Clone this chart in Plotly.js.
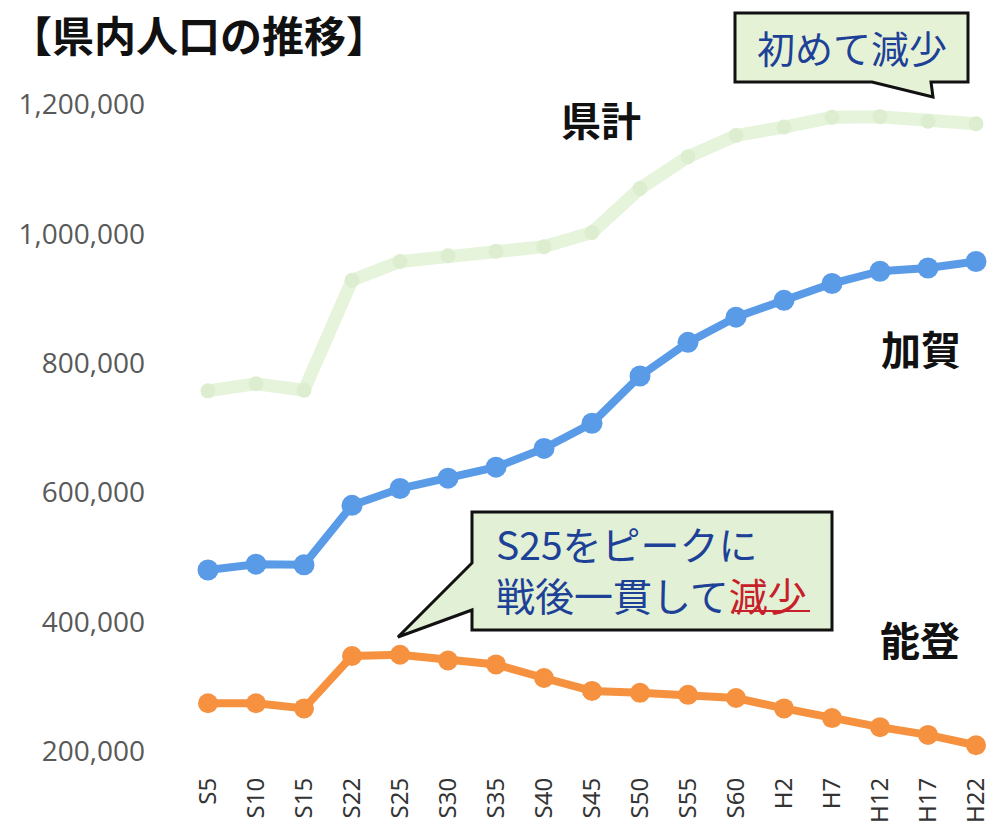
<!DOCTYPE html>
<html>
<head>
<meta charset="utf-8">
<script src="https://cdn.plot.ly/plotly-3.0.1.min.js"></script>
<style>
html,body{margin:0;padding:0;background:#fff;}
#chart{width:993px;height:826px;}
</style>
</head>
<body>
<div id="chart"></div>
<script>
const categories = ['S5','S10','S15','S22','S25','S30','S35','S40','S45','S50','S55','S60','H2','H7','H12','H17','H22'];
const kenkei = [757000, 768000, 758000, 928000, 957000, 966000, 973000, 980000, 1002000, 1070000, 1119000, 1152000, 1165000, 1180000, 1181000, 1174000, 1170000];
const kaga = [480000, 489000, 488000, 580000, 606000, 622000, 639000, 668000, 707000, 780000, 832000, 871000, 897000, 923000, 942000, 947000, 957000];
const noto = [274000, 274000, 266000, 347000, 349000, 340000, 334000, 313000, 293000, 290000, 287000, 282000, 266000, 251000, 237000, 225000, 209000];
const yTicks = [200000, 400000, 600000, 800000, 1000000, 1200000];
const seriesNames = ['県計', '加賀', '能登'];

const W = 993, H = 826;
const M = {l: 184, r: 1, t: 85, b: 62};
const PW = W - M.l - M.r, PH = H - M.t - M.b;
const px = x => (x - M.l) / PW;
const py = y => (H - M.b - y) / PH;

const cjk = '"Noto Sans CJK JP", "Noto Sans", sans-serif';

const traces = [
  {x: categories, y: kenkei, name: seriesNames[0], type: 'scatter', mode: 'lines+markers',
   line: {color: '#e6f4dc', width: 13}, marker: {color: '#ddeed0', size: 15}, cliponaxis: false},
  {x: categories, y: kaga, name: seriesNames[1], type: 'scatter', mode: 'lines+markers',
   line: {color: '#5a9be8', width: 8}, marker: {color: '#5a9be8', size: 21}, cliponaxis: false},
  {x: categories, y: noto, name: seriesNames[2], type: 'scatter', mode: 'lines+markers',
   line: {color: '#f6923f', width: 8}, marker: {color: '#f6923f', size: 20}, cliponaxis: false}
];

function pathFrom(pts) {
  return 'M ' + pts.map(p => px(p[0]).toFixed(5) + ',' + py(p[1]).toFixed(5)).join(' L ') + ' Z';
}

const box1 = [[735,13],[968,13],[968,82],[931,82],[933,97],[872,82],[735,82]];
const box2 = [[472,512],[832,512],[832,630],[472,630],[472,610],[398,637],[472,563]];

const layout = {
  width: W, height: H,
  margin: M,
  paper_bgcolor: '#fff', plot_bgcolor: '#fff',
  showlegend: false,
  xaxis: {type: 'category', range: [-0.5, -0.5 + PW / 48], showgrid: false, zeroline: false,
          showline: false, ticks: '', tickangle: -90, ticklabelstandoff: 8,
          tickfont: {family: '"Noto Sans", "Open Sans", sans-serif', size: 24, color: '#333'}},
  yaxis: {range: [180000, 1230000], tickvals: yTicks, tickformat: ',d', showgrid: false,
          zeroline: false, showline: false, ticks: '', ticklabelstandoff: 38,
          tickfont: {family: '"Open Sans", sans-serif', size: 28, color: '#595959'}},
  shapes: [
    {type: 'path', xref: 'paper', yref: 'paper', path: pathFrom(box1),
     fillcolor: '#e6f2d6', line: {color: '#111', width: 3}},
    {type: 'path', xref: 'paper', yref: 'paper', path: pathFrom(box2),
     fillcolor: '#e2f0d6', line: {color: '#111', width: 3}},
    {type: 'line', xref: 'paper', yref: 'paper', x0: px(735), x1: px(810), y0: py(611), y1: py(611),
     line: {color: '#c8202a', width: 2}}
  ],
  annotations: [
    {text: '<b>【県内人口の推移】</b>', xref: 'paper', yref: 'paper', x: px(8), y: py(33),
     xanchor: 'left', yanchor: 'middle', showarrow: false,
     font: {family: cjk, size: 42, color: '#111'}},
    {text: '<b>県計</b>', xref: 'paper', yref: 'paper', x: px(601), y: py(119),
     xanchor: 'center', yanchor: 'middle', showarrow: false, font: {family: cjk, size: 40, color: '#111'}},
    {text: '<b>加賀</b>', xref: 'paper', yref: 'paper', x: px(921), y: py(348),
     xanchor: 'center', yanchor: 'middle', showarrow: false, font: {family: cjk, size: 40, color: '#111'}},
    {text: '<b>能登</b>', xref: 'paper', yref: 'paper', x: px(920), y: py(639),
     xanchor: 'center', yanchor: 'middle', showarrow: false, font: {family: cjk, size: 40, color: '#111'}},
    {text: '初めて減少', xref: 'paper', yref: 'paper', x: px(852), y: py(47),
     xanchor: 'center', yanchor: 'middle', showarrow: false, font: {family: cjk, size: 38, color: '#1d4196'}},
    {text: 'S25をピークに<br>戦後一貫して<span style="color:#c8202a">減少</span>', xref: 'paper', yref: 'paper',
     x: px(494), y: py(568), align: 'left',
     xanchor: 'left', yanchor: 'middle', showarrow: false, font: {family: cjk, size: 39, color: '#1d4196'}}
  ]
};

Plotly.newPlot('chart', traces, layout, {displayModeBar: false, staticPlot: true});
</script>
</body>
</html>
